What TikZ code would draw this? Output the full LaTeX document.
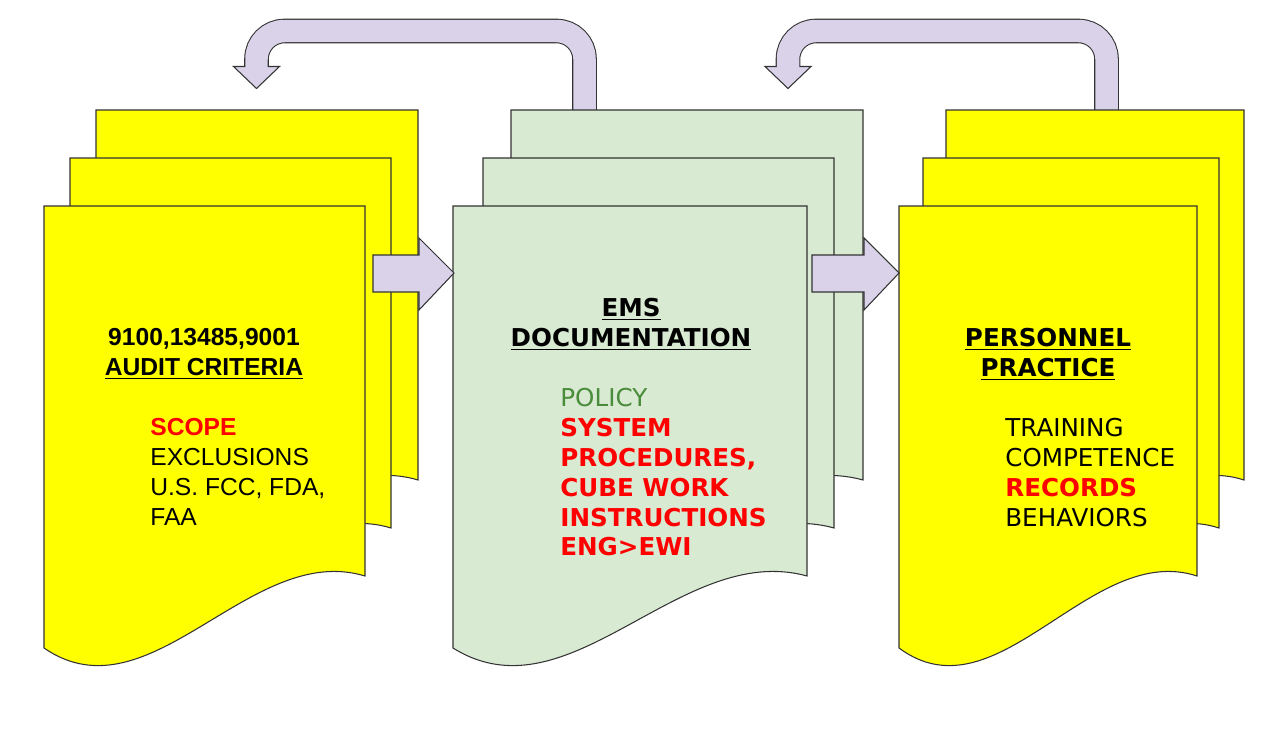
\documentclass[tikz,border=0pt]{standalone}
\usepackage{fontspec}
\setmainfont{Liberation Sans}
\newfontfamily\verdana{DejaVu Sans}
\usetikzlibrary{calc}
\definecolor{sheetyellow}{HTML}{FFFF00}
\definecolor{sheetgreen}{HTML}{D9EAD3}
\definecolor{flowpurple}{HTML}{D9D2E9}
\definecolor{policygreen}{HTML}{4A8C3C}
\definecolor{hotred}{HTML}{FF0000}
\definecolor{edgegray}{HTML}{333333}
\newcommand{\txtsize}{\fontsize{14}{17}\selectfont}
\tikzset{
    sheet/.style={draw=edgegray, line width=0.6pt},
    flow/.style={fill=flowpurple, draw=edgegray, line width=0.6pt},
    loopout/.style={draw=edgegray, line width=14pt, rounded corners=0.56cm},
    loopin/.style={draw=flowpurple, line width=12.8pt, rounded corners=0.56cm},
    head/.style={align=center, inner sep=0pt},
    items/.style={align=left, inner sep=0pt, anchor=north west},
}
% #1 left, #2 top, #3 width, #4 fill
\newcommand{\docsheet}[4]{%
    \filldraw[sheet, fill=#4] (#1,#2) -- (#1+#3,#2) -- (#1+#3,#2+370)
        .. controls (#1+0.642*#3,#2+335) and (#1+0.33*#3,#2+515) .. (#1,#2+442) -- cycle;
}

\begin{document}
\begin{tikzpicture}[x=0.02cm, y=-0.02cm]
    \useasboundingbox (0,0) rectangle (1277,737);

    % feedback loops
    \coordinate (emsTop) at (584.5,110);
    \coordinate (auditTip) at (256.5,88.5);
    \coordinate (persTop) at (1106.5,110);
    \coordinate (emsTip) at (788,88.5);
    \draw[loopout] (emsTop) |- ($(auditTip)+(0,-57.5)$) -- ($(auditTip)+(0,-20)$);
    \filldraw[flow] (auditTip) -- ++(-23,-22) -- ++(46,0) -- cycle;
    \draw[loopin] (emsTop) |- ($(auditTip)+(0,-57.5)$) -- ($(auditTip)+(0,-20.5)$);
    \draw[loopout] (persTop) |- ($(emsTip)+(0,-57.5)$) -- ($(emsTip)+(0,-20)$);
    \filldraw[flow] (emsTip) -- ++(-23,-22) -- ++(46,0) -- cycle;
    \draw[loopin] (persTop) |- ($(emsTip)+(0,-57.5)$) -- ($(emsTip)+(0,-20.5)$);

    % stacks
    \docsheet{96}{110}{322}{sheetyellow}
    \docsheet{70}{158}{321}{sheetyellow}
    \docsheet{44}{206}{321}{sheetyellow}
    \docsheet{511}{110}{352}{sheetgreen}
    \docsheet{483}{158}{351}{sheetgreen}
    \docsheet{453}{206}{354}{sheetgreen}
    \docsheet{946}{110}{298}{sheetyellow}
    \docsheet{923}{158}{296}{sheetyellow}
    \docsheet{899}{206}{298}{sheetyellow}

    % forward arrows
    \coordinate (emsIn) at (454,273);
    \coordinate (persIn) at (899,273);
    \filldraw[flow] (emsIn) -- ++(-35,-35) -- ++(0,17) -- ++(-46,0) -- ++(0,37)
        -- ++(46,0) -- ++(0,18) -- cycle;
    \filldraw[flow] (persIn) -- ++(-35,-35) -- ++(0,17) -- ++(-52,0) -- ++(0,37)
        -- ++(52,0) -- ++(0,18) -- cycle;

    \node[head, font=\txtsize\bfseries] (audithead) at (204,354)
        {9100,13485,9001\\\underline{AUDIT CRITERIA}};
    \node[items, font=\txtsize] (auditlist) at (150,418)
        {\textcolor{hotred}{\bfseries SCOPE}\\EXCLUSIONS\\U.S. FCC, FDA,\\FAA};

    \node[head, font=\verdana\txtsize\bfseries] (emshead) at (631,324)
        {\underline{EMS}\\\underline{DOCUMENTATION}};
    \node[items, font=\verdana\txtsize] (emslist) at (560,388)
        {\textcolor{policygreen}{POLICY}\\
         \textcolor{hotred}{\bfseries SYSTEM}\\
         \textcolor{hotred}{\bfseries PROCEDURES,}\\
         \textcolor{hotred}{\bfseries CUBE WORK}\\
         \textcolor{hotred}{\bfseries INSTRUCTIONS}\\
         \textcolor{hotred}{\bfseries ENG>EWI}};

    \node[head, font=\verdana\txtsize\bfseries] (pershead) at (1048,354)
        {\underline{PERSONNEL}\\\underline{PRACTICE}};
    \node[items, font=\verdana\txtsize] (perslist) at (1005,418)
        {TRAINING\\COMPETENCE\\\textcolor{hotred}{\bfseries RECORDS}\\BEHAVIORS};
\end{tikzpicture}
\end{document}
